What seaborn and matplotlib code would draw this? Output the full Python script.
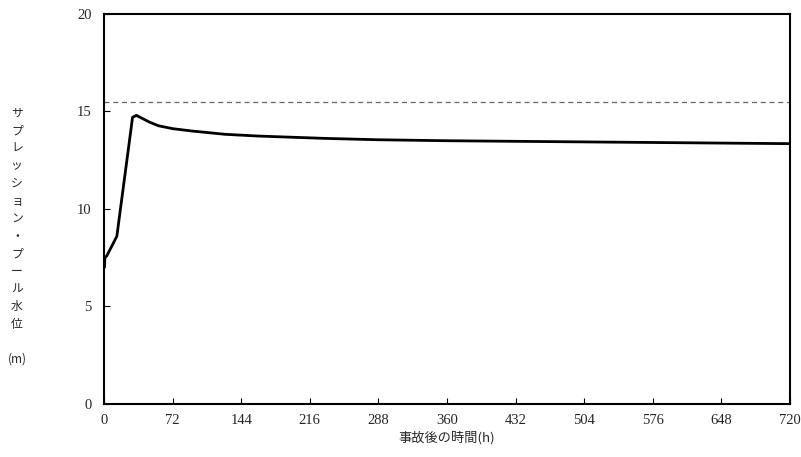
import matplotlib
matplotlib.use("Agg")
import matplotlib.pyplot as plt
import seaborn as sns
import pandas as pd

# time after accident (h) and suppression pool water level (m)
hours = [0, 0.5, 1, 3, 13.5, 30, 34, 40, 48, 57, 72, 92, 127, 162, 232,
         288, 360, 432, 504, 576, 648, 720]
level = [7.0, 7.0, 7.5, 7.6, 8.6, 14.7, 14.8, 14.65, 14.45, 14.27, 14.12,
         14.0, 13.83, 13.74, 13.62, 13.55, 13.5, 13.47, 13.44, 13.41,
         13.38, 13.35]
limit_level = 15.5
xticks = [0, 72, 144, 216, 288, 360, 432, 504, 576, 648, 720]
yticks = [0, 5, 10, 15, 20]
ylabel_chars = list("サプレッション・プール水位") + ["", "(m)"]

df = pd.DataFrame({"hours": hours, "level": level})

sns.set_theme(style="ticks")
plt.rcParams["font.family"] = ["Liberation Serif", "Noto Sans CJK JP", "DejaVu Sans"]

fig = plt.figure(figsize=(8.01, 4.57), dpi=100)
ax = fig.add_axes([0.1298, 0.116, 0.8565, 0.8534])

sns.lineplot(data=df, x="hours", y="level", ax=ax, color="black",
             linewidth=2, sort=False, estimator=None)
ax.axhline(limit_level, color="#666666", linestyle=(0, (4, 3)), linewidth=0.9)

ax.set_xlim(0, 720)
ax.set_ylim(0, 20)
ax.set_xticks(xticks)
ax.set_yticks(yticks)
ax.tick_params(direction="in", length=4, width=0.8, labelsize=10.5, color="black",
               bottom=True, left=True)
ax.tick_params(axis="y", pad=9)
ax.tick_params(axis="x", pad=7)
for s in ax.spines.values():
    s.set_visible(True)
    s.set_color("black")
    s.set_linewidth(1.5)

ax.set_xlabel("事故後の時間(h)", fontsize=9.5, family=["Noto Sans CJK JP", "DejaVu Sans"],
              labelpad=3)
ax.set_ylabel("")

for i, ch in enumerate(ylabel_chars):
    fig.text(17 / 801, 1 - (113 + i * 17.6) / 457, ch, ha="center", va="center",
             fontsize=8.5, family=["Noto Sans CJK JP", "DejaVu Sans"])

fig.savefig("out.png", dpi=100, facecolor="white")
